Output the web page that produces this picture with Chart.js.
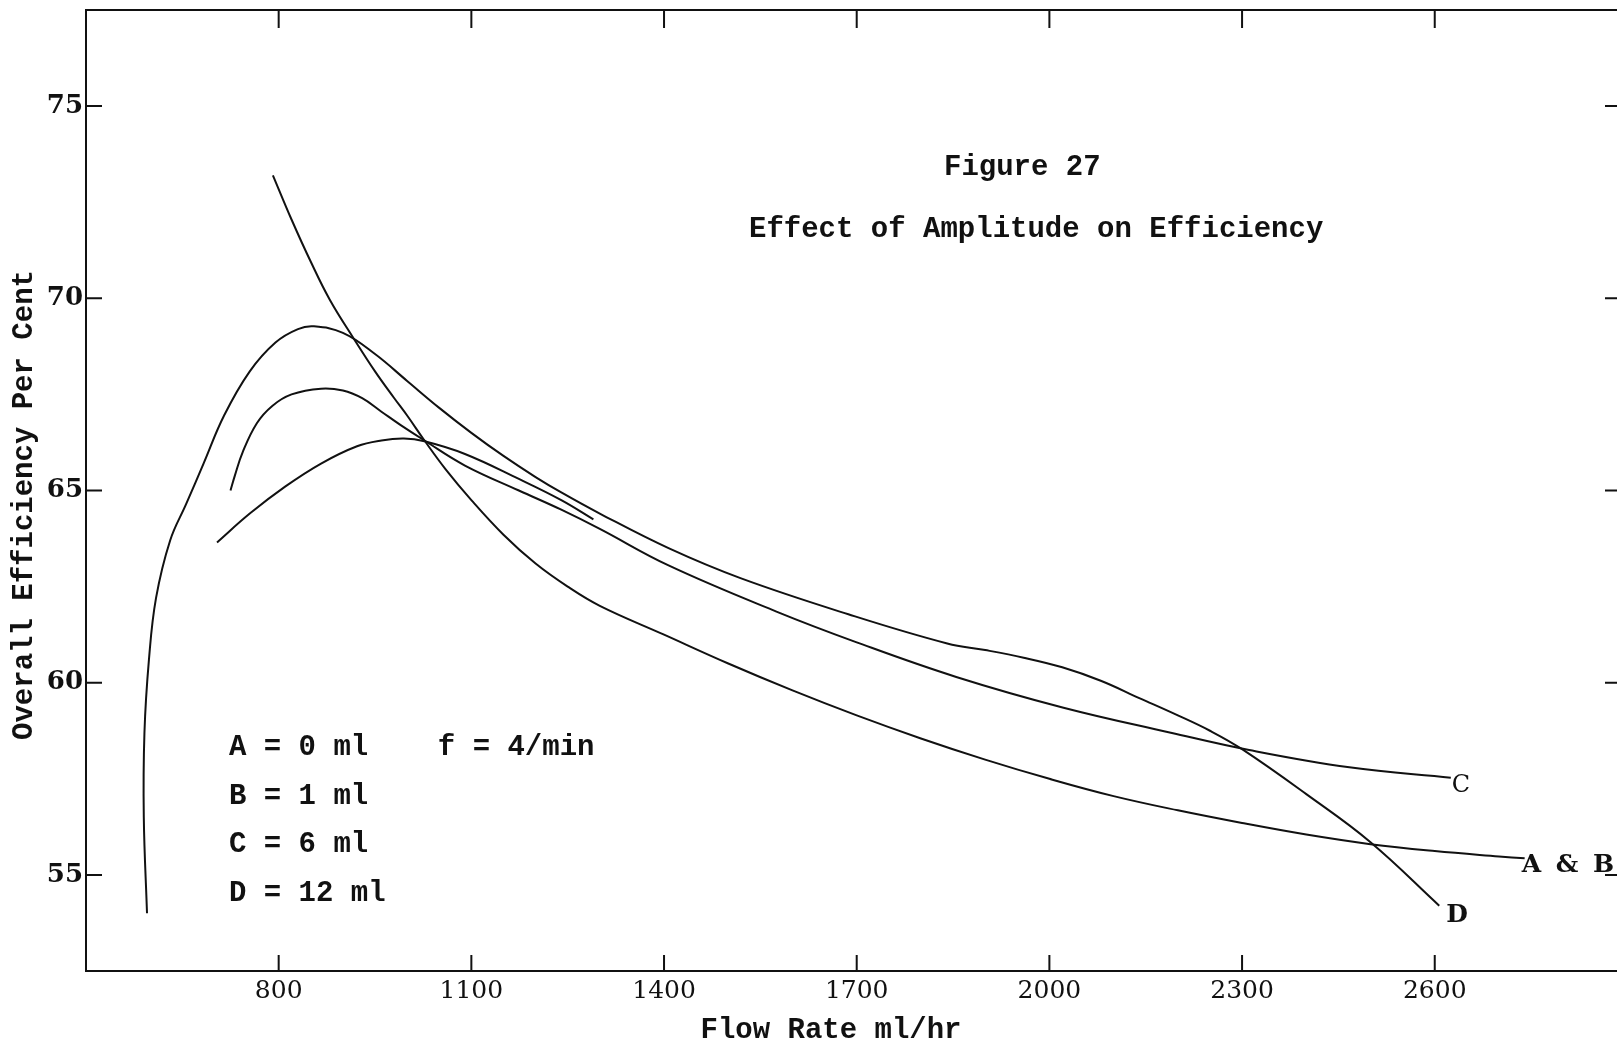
<!DOCTYPE html>
<html>
<head>
<meta charset="utf-8">
<title>Figure 27</title>
<script src="https://cdn.jsdelivr.net/npm/chart.js@4.4.1/dist/chart.umd.min.js"></script>
<style>
  html, body { margin: 0; padding: 0; background: #fff; overflow: hidden; }
  #wrap { width: 1625px; height: 1049px; }
</style>
</head>
<body>
<div id="wrap"><canvas id="effChart" width="1625" height="1049"></canvas></div>
<script>
// Axis ticks
const xTickValues = [800, 1100, 1400, 1700, 2000, 2300, 2600];
const yTickValues = [55, 60, 65, 70, 75];

// A & B (0 ml and 1 ml) - one curve
const abFlow = [791, 820, 850, 880, 917, 950, 980, 1000, 1027, 1060, 1100, 1150, 1200, 1250, 1300, 1400, 1500, 1600, 1700, 1800, 1900, 2000, 2100, 2200, 2300, 2400, 2500, 2600, 2700, 2740];
const abEff  = [73.2, 72.05, 70.95, 69.95, 68.95, 68.1, 67.4, 66.95, 66.3, 65.55, 64.75, 63.85, 63.1, 62.5, 62.0, 61.25, 60.5, 59.8, 59.15, 58.55, 58.0, 57.5, 57.05, 56.68, 56.35, 56.05, 55.8, 55.62, 55.48, 55.43];

// C (6 ml) - main branch
const cFlow = [725, 732, 744, 766, 790, 820, 866, 900, 930, 960, 990, 1027, 1090, 1174, 1240, 1300, 1407, 1575, 1700, 1855, 2022, 2189, 2311, 2467, 2625];
const cEff  = [65.0, 65.4, 66.0, 66.75, 67.2, 67.5, 67.65, 67.6, 67.4, 67.05, 66.7, 66.3, 65.65, 65.0, 64.5, 64.0, 63.05, 61.85, 61.05, 60.15, 59.35, 58.7, 58.25, 57.8, 57.53];

// C (6 ml) - lower branch joining the main one
const c2Flow = [704, 755, 810, 866, 922, 960, 995, 1027, 1090, 1174, 1240, 1290];
const c2Eff  = [63.65, 64.4, 65.1, 65.7, 66.15, 66.3, 66.35, 66.28, 65.95, 65.3, 64.75, 64.25];

// D (12 ml)
const dFlow = [595, 590, 591, 598, 609, 631, 656, 683, 715, 755, 795, 830, 855, 900, 950, 1000, 1050, 1100, 1150, 1200, 1240, 1300, 1407, 1519, 1687, 1841, 1900, 1960, 2020, 2080, 2140, 2200, 2250, 2300, 2400, 2500, 2607];
const dEff  = [54.0, 56.5, 58.7, 60.6, 62.2, 63.7, 64.65, 65.7, 66.95, 68.1, 68.85, 69.2, 69.27, 69.1, 68.55, 67.85, 67.15, 66.5, 65.9, 65.35, 64.95, 64.4, 63.5, 62.72, 61.78, 61.02, 60.85, 60.65, 60.4, 60.05, 59.6, 59.15, 58.75, 58.27, 57.1, 55.85, 54.2];

// Legend text block
const legendLines = ['A = 0 ml    f = 4/min', 'B = 1 ml', 'C = 6 ml', 'D = 12 ml'];

const mono = '"Liberation Mono", "Courier New", monospace';
const serif = '"DejaVu Serif", serif';
const ink = '#111';

function toPoints(xs, ys) {
    return xs.map((v, i) => ({ x: v, y: ys[i] }));
}

function curve(label, xs, ys) {
    return {
        label: label,
        data: toPoints(xs, ys),
        showLine: true,
        borderColor: ink,
        borderWidth: 2,
        pointRadius: 0,
        tension: 0.4,
        fill: false
    };
}

// Frame, inward ticks and all the typed text
const frameAndText = {
    id: 'frameAndText',
    afterDraw(chart) {
        const { ctx, chartArea: a, scales: { x, y } } = chart;
        ctx.save();
        ctx.strokeStyle = ink;
        ctx.lineWidth = 2;
        ctx.strokeRect(a.left, a.top, a.right - a.left, a.bottom - a.top);

        // ticks point into the plot
        ctx.beginPath();
        xTickValues.forEach(v => {
            const px = x.getPixelForValue(v);
            ctx.moveTo(px, a.bottom); ctx.lineTo(px, a.bottom - 16);
            ctx.moveTo(px, a.top); ctx.lineTo(px, a.top + 18);
        });
        yTickValues.forEach(v => {
            const py = y.getPixelForValue(v);
            ctx.moveTo(a.left, py); ctx.lineTo(a.left + 16, py);
            ctx.moveTo(a.right, py); ctx.lineTo(a.right - 16, py);
        });
        ctx.stroke();

        ctx.fillStyle = ink;
        ctx.textBaseline = 'middle';
        ctx.textAlign = 'left';
        ctx.font = 'bold 29px ' + mono;
        ctx.fillText('Figure 27', 944, 168);
        ctx.fillText('Effect of Amplitude on Efficiency', 749, 230);

        legendLines.forEach((t, i) => {
            ctx.fillText(t, 229, 748 + i * 48.5);
        });

        // axis titles
        ctx.textAlign = 'center';
        ctx.fillText('Flow Rate ml/hr', 831, 1031);
        ctx.save();
        ctx.translate(25, 505);
        ctx.rotate(-Math.PI / 2);
        ctx.fillText('Overall Efficiency Per Cent', 0, 0);
        ctx.restore();

        // curve end labels
        ctx.textAlign = 'left';
        const cEnd = cFlow.length - 1, abEnd = abFlow.length - 1, dEnd = dFlow.length - 1;
        ctx.font = '24px ' + serif;
        ctx.fillText('C', x.getPixelForValue(cFlow[cEnd]) + 1, y.getPixelForValue(cEff[cEnd]) + 8);
        ctx.font = 'bold 25px ' + serif;
        ctx.letterSpacing = '3px';
        ctx.fillText('A & B', x.getPixelForValue(abFlow[abEnd]) - 3, y.getPixelForValue(abEff[abEnd]) + 7);
        ctx.letterSpacing = '0px';
        ctx.fillText('D', x.getPixelForValue(dFlow[dEnd]) + 7, y.getPixelForValue(dEff[dEnd]) + 10);
        ctx.restore();
    }
};

new Chart(document.getElementById('effChart').getContext('2d'), {
    type: 'scatter',
    data: {
        datasets: [
            curve('A & B', abFlow, abEff),
            curve('C', cFlow, cEff),
            curve('C lower', c2Flow, c2Eff),
            curve('D', dFlow, dEff)
        ]
    },
    options: {
        responsive: false,
        animation: false,
        devicePixelRatio: 1,
        layout: { padding: { top: 10, right: 4, left: 0, bottom: 0 } },
        plugins: {
            legend: { display: false },
            tooltip: { enabled: false }
        },
        scales: {
            x: {
                type: 'linear',
                min: 500,
                max: 2890,
                grid: { display: false, drawTicks: false },
                border: { display: false },
                afterBuildTicks: s => { s.ticks = xTickValues.map(v => ({ value: v })); },
                afterFit: s => {
                    s.height = 78;
                    s.paddingLeft = 0;
                    s.paddingRight = 0;
                },
                ticks: {
                    color: ink,
                    autoSkip: false,
                    maxRotation: 0,
                    padding: 5,
                    callback: v => String(v),
                    font: { family: serif, size: 25 }
                }
            },
            y: {
                type: 'linear',
                min: 52.5,
                max: 77.5,
                grid: { display: false, drawTicks: false },
                border: { display: false },
                afterBuildTicks: s => { s.ticks = yTickValues.map(v => ({ value: v })); },
                afterFit: s => {
                    s.width = 86;
                    s.paddingTop = 0;
                    s.paddingBottom = 0;
                },
                ticks: {
                    color: ink,
                    autoSkip: false,
                    padding: 3,
                    callback: v => String(v),
                    font: { family: serif, size: 26, weight: 'bold' }
                }
            }
        }
    },
    plugins: [frameAndText]
});
</script>
</body>
</html>
